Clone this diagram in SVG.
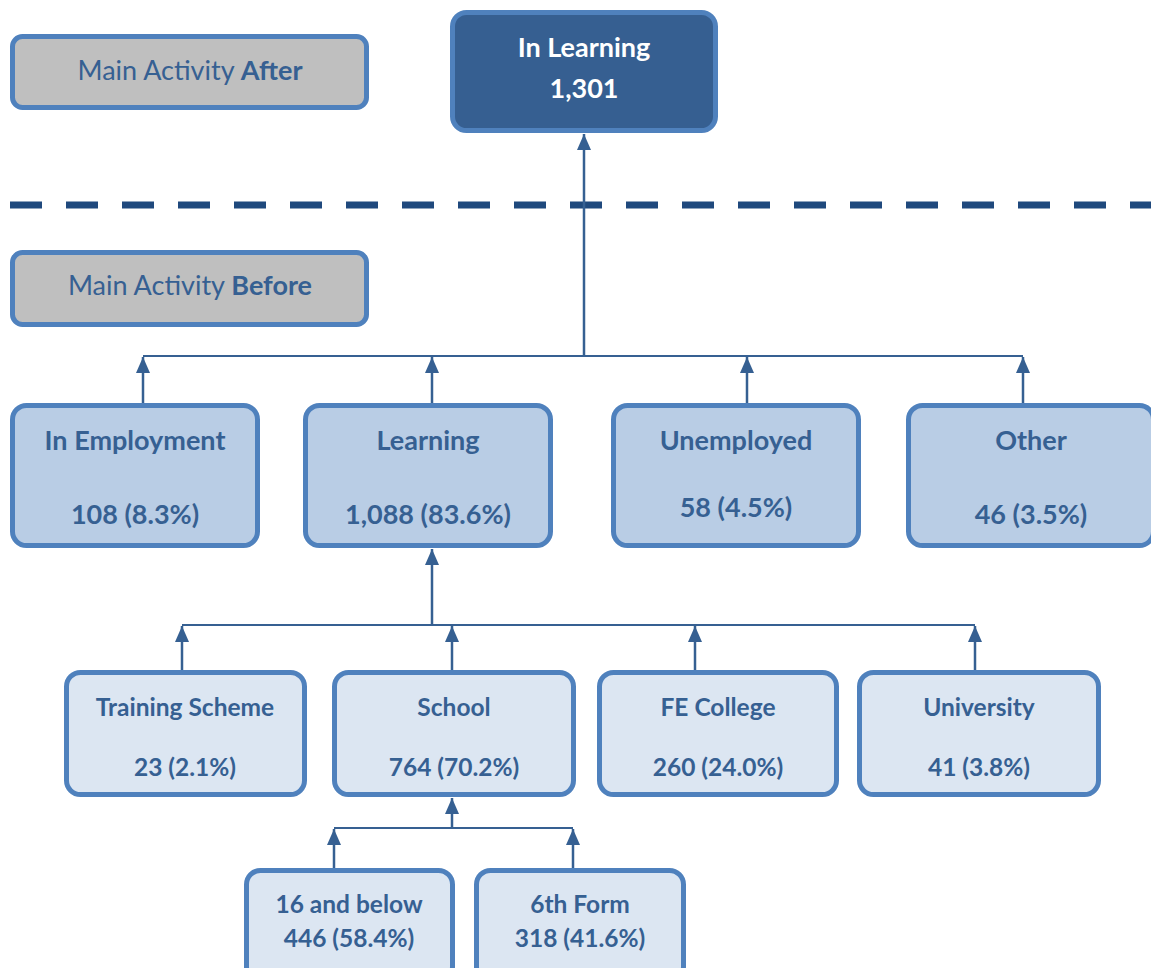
<svg xmlns="http://www.w3.org/2000/svg" width="1151" height="968" viewBox="0 0 1151 968">
<style>
.box{stroke:#4F81BD;stroke-width:5}
.mid{fill:#B9CDE5}
.light{fill:#DCE6F2}
.gray{fill:#BFBFBF}
.dark{fill:#365F91}
text{font-family:Lato,"Open Sans","Liberation Sans",sans-serif;font-size:24.5px;text-anchor:middle;fill:#366092;font-weight:bold}
.big{font-size:27px}
.w{fill:#FFFFFF}
.n{font-weight:normal}
.c{stroke:#366092;fill:none}
</style>
<defs>
<marker id="arr" viewBox="0 0 16 14" refX="16" refY="7" markerWidth="16" markerHeight="14" markerUnits="userSpaceOnUse" orient="auto">
<path d="M0,0 L16,7 L0,14 z" fill="#366092"/>
</marker>
</defs>
<line x1="10" y1="205" x2="1151" y2="205" stroke="#1F497D" stroke-width="7" stroke-dasharray="32 24"/>
<g id="connectors">
<line class="c" x1="143" y1="356" x2="1023" y2="356" stroke-width="2"/>
<line class="c" x1="584" y1="356" x2="584" y2="134" stroke-width="2.5" marker-end="url(#arr)"/>
<line class="c" x1="143" y1="404" x2="143" y2="357" stroke-width="2.5" marker-end="url(#arr)"/>
<line class="c" x1="432" y1="404" x2="432" y2="357" stroke-width="2.5" marker-end="url(#arr)"/>
<line class="c" x1="747" y1="404" x2="747" y2="357" stroke-width="2.5" marker-end="url(#arr)"/>
<line class="c" x1="1023" y1="404" x2="1023" y2="357" stroke-width="2.5" marker-end="url(#arr)"/>
<line class="c" x1="182" y1="625" x2="975" y2="625" stroke-width="2"/>
<line class="c" x1="432" y1="625" x2="432" y2="549" stroke-width="2.5" marker-end="url(#arr)"/>
<line class="c" x1="182" y1="671" x2="182" y2="626" stroke-width="2.5" marker-end="url(#arr)"/>
<line class="c" x1="452" y1="671" x2="452" y2="626" stroke-width="2.5" marker-end="url(#arr)"/>
<line class="c" x1="695" y1="671" x2="695" y2="626" stroke-width="2.5" marker-end="url(#arr)"/>
<line class="c" x1="975" y1="671" x2="975" y2="626" stroke-width="2.5" marker-end="url(#arr)"/>
<line class="c" x1="334" y1="828" x2="573" y2="828" stroke-width="2"/>
<line class="c" x1="452" y1="828" x2="452" y2="798" stroke-width="2.5" marker-end="url(#arr)"/>
<line class="c" x1="334" y1="869" x2="334" y2="829" stroke-width="2.5" marker-end="url(#arr)"/>
<line class="c" x1="573" y1="869" x2="573" y2="829" stroke-width="2.5" marker-end="url(#arr)"/>
</g>
<g id="after">
<rect class="box gray" x="12.5" y="36.5" width="354" height="71" rx="10"/>
<text x="190" y="80" class="n big">Main Activity <tspan font-weight="bold">After</tspan></text>
</g>
<g id="before">
<rect class="box gray" x="12.5" y="252.5" width="354" height="72" rx="10"/>
<text x="190" y="295" class="n big">Main Activity <tspan font-weight="bold">Before</tspan></text>
</g>
<g id="in-learning">
<rect class="box dark" x="452.5" y="12.5" width="263" height="118" rx="14"/>
<text class="w big" x="584" y="57">In Learning</text>
<text class="w big" x="584" y="98">1,301</text>
</g>
<g id="in-employment">
<rect class="box mid" x="12.5" y="405.5" width="245" height="140" rx="14"/>
<text class="big" x="135" y="450">In Employment</text>
<text class="big" x="135" y="524">108 (8.3%)</text>
</g>
<g id="learning">
<rect class="box mid" x="305.5" y="405.5" width="245" height="140" rx="14"/>
<text class="big" x="428" y="450">Learning</text>
<text class="big" x="428" y="524">1,088 (83.6%)</text>
</g>
<g id="unemployed">
<rect class="box mid" x="613.5" y="405.5" width="245" height="140" rx="14"/>
<text class="big" x="736" y="450">Unemployed</text>
<text class="big" x="736" y="517">58 (4.5%)</text>
</g>
<g id="other">
<rect class="box mid" x="908.5" y="405.5" width="245" height="140" rx="14"/>
<text class="big" x="1031" y="450">Other</text>
<text class="big" x="1031" y="524">46 (3.5%)</text>
</g>
<g id="training-scheme">
<rect class="box light" x="66.5" y="672.5" width="238" height="122" rx="14"/>
<text x="185" y="716">Training Scheme</text>
<text x="185" y="776">23 (2.1%)</text>
</g>
<g id="school">
<rect class="box light" x="334.5" y="672.5" width="239" height="122" rx="14"/>
<text x="454" y="716">School</text>
<text x="454" y="776">764 (70.2%)</text>
</g>
<g id="fe-college">
<rect class="box light" x="599.5" y="672.5" width="237" height="122" rx="14"/>
<text x="718" y="716">FE College</text>
<text x="718" y="776">260 (24.0%)</text>
</g>
<g id="university">
<rect class="box light" x="859.5" y="672.5" width="239" height="122" rx="14"/>
<text x="979" y="716">University</text>
<text x="979" y="776">41 (3.8%)</text>
</g>
<g id="sixteen-and-below">
<rect class="box light" x="246.5" y="870.5" width="206" height="110" rx="14"/>
<text x="349" y="913">16 and below</text>
<text x="349" y="947">446 (58.4%)</text>
</g>
<g id="sixth-form">
<rect class="box light" x="476.5" y="870.5" width="207" height="110" rx="14"/>
<text x="580" y="913">6th Form</text>
<text x="580" y="947">318 (41.6%)</text>
</g>
</svg>
